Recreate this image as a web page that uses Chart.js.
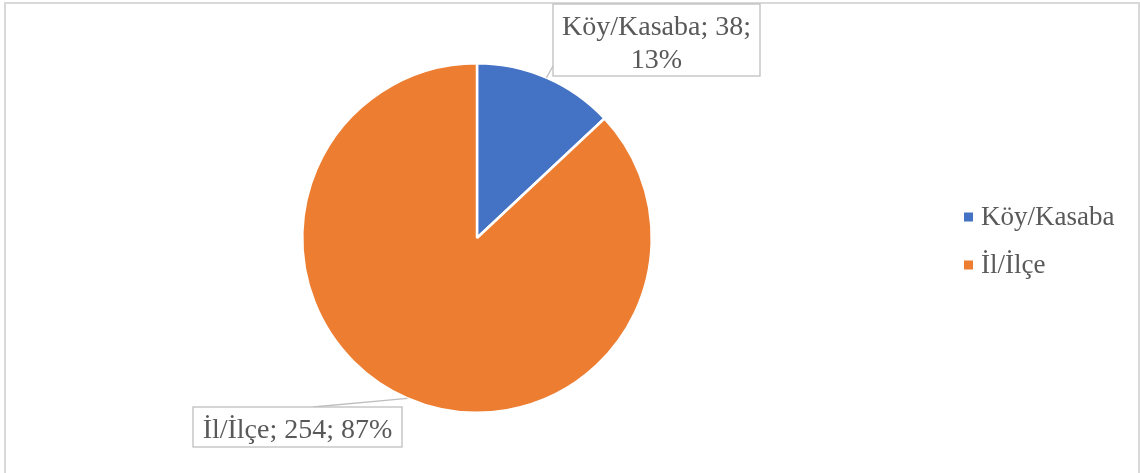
<!DOCTYPE html>
<html>
<head>
<meta charset="utf-8">
<script src="https://cdn.jsdelivr.net/npm/chart.js@4.4.0/dist/chart.umd.min.js"></script>
<style>
  html, body { margin: 0; padding: 0; background: #fff; }
  #wrap { width: 1140px; height: 473px; position: relative; }
</style>
</head>
<body>
<div id="wrap"><canvas id="pieChart"></canvas></div>
<script>
// Data
const categories = ["Köy/Kasaba", "İl/İlçe"]
const counts = [38, 254]
const percents = ["13%", "87%"]
const colors = ["#4472C4", "#ED7D31"]

const textColor = "#595959"
const fontFamily = "'Liberation Serif', 'Times New Roman', serif"

// Label boxes (layout only)
const labelBoxes = [
  { x: 553, y: 4, w: 207, h: 72, lines: (i) => [categories[i] + "; " + counts[i] + ";", percents[i]], edge: "left" },
  { x: 193, y: 407, w: 209, h: 40, lines: (i) => [categories[i] + "; " + counts[i] + "; " + percents[i]], edge: "top" },
]

const excelPlugin = {
  id: "excelPlugin",
  beforeDraw(chart) {
    const c = chart.ctx
    c.save()
    c.strokeStyle = "#d9d9d9"
    c.lineWidth = 2
    c.beginPath()
    c.moveTo(5, 480)
    c.lineTo(5, 3)
    c.lineTo(1139, 3)
    c.lineTo(1139, 480)
    c.stroke()
    c.restore()
  },
  afterDraw(chart) {
    const c = chart.ctx
    const arcs = chart.getDatasetMeta(0).data
    c.save()
    c.font = "28px " + fontFamily
    c.textAlign = "center"
    c.textBaseline = "middle"

    arcs.forEach((arc, i) => {
      const box = labelBoxes[i]
      const mid = (arc.startAngle + arc.endAngle) / 2
      const px = arc.x + Math.cos(mid) * arc.outerRadius
      const py = arc.y + Math.sin(mid) * arc.outerRadius

      // leader line
      c.strokeStyle = "#bfbfbf"
      c.lineWidth = 1.3
      c.beginPath()
      c.moveTo(px, py)
      if (box.edge === "left") {
        c.lineTo(box.x, box.y + box.h - 10)
      } else {
        c.lineTo(box.x + 120, box.y)
      }
      c.stroke()

      // box
      c.fillStyle = "#fff"
      c.fillRect(box.x, box.y, box.w, box.h)
      c.strokeStyle = "#bfbfbf"
      c.lineWidth = 1.3
      c.strokeRect(box.x, box.y, box.w, box.h)

      // text
      c.fillStyle = textColor
      const lines = box.lines(i)
      const lh = 33
      const startY = box.y + box.h / 2 - (lines.length - 1) * lh / 2
      lines.forEach((t, k) => c.fillText(t, box.x + box.w / 2, startY + k * lh + 4))
    })

    // legend
    c.font = "27px " + fontFamily
    c.textAlign = "left"
    categories.forEach((name, i) => {
      const y = 217 + i * 48
      c.fillStyle = colors[i]
      c.fillRect(964, y - 4.5, 9, 9)
      c.fillStyle = textColor
      c.fillText(name, 981, y + 1)
    })
    c.restore()
  },
}

const ctx = document.getElementById("pieChart").getContext("2d")

const pieChart = new Chart(ctx, {
  type: "pie",
  data: {
    labels: categories,
    datasets: [
      {
        data: counts,
        backgroundColor: colors,
        borderColor: "#ffffff",
        borderWidth: 2.5,
      },
    ],
  },
  options: {
    responsive: true,
    maintainAspectRatio: false,
    animation: false,
    layout: {
      padding: { left: 301, right: 487, top: 62, bottom: 59 },
    },
    plugins: {
      legend: { display: false },
      tooltip: { enabled: false },
    },
  },
  plugins: [excelPlugin],
})
</script>
</body>
</html>
